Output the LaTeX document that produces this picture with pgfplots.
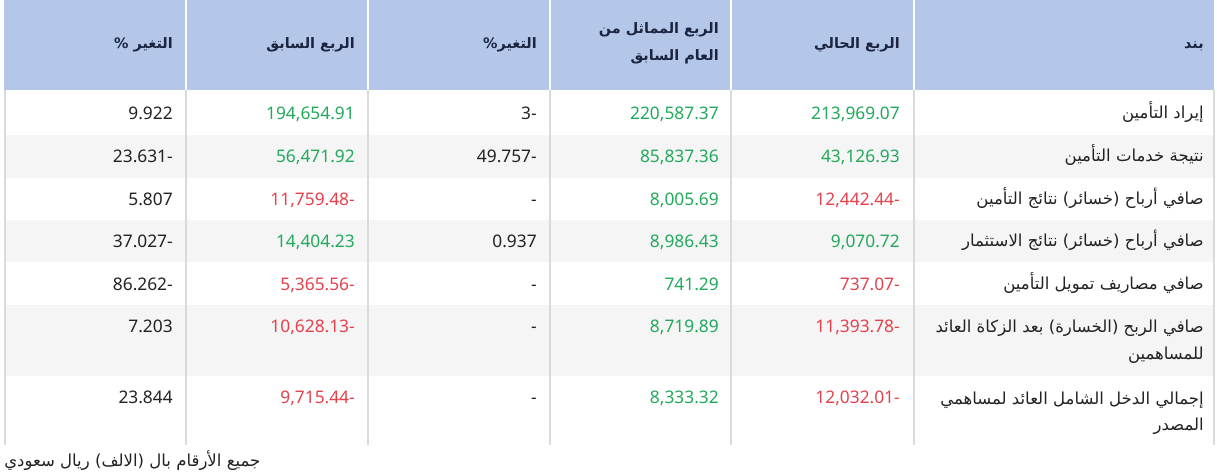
\documentclass[border=0pt]{standalone}
\usepackage{pgfplots}
\usepackage{pgfplotstable}
\pgfplotsset{compat=1.18}
\usepackage{fontspec}
\setmainfont{Noto Sans}
\newfontfamily\arabicfont[Script=Arabic]{DejaVu Sans}
\TeXXeTstate=1
\definecolor{hdr}{HTML}{B4C7E9}
\definecolor{hdrtxt}{HTML}{1B2440}
\definecolor{pos}{HTML}{22A95C}
\definecolor{neg}{HTML}{E5414C}
\definecolor{rowshade}{HTML}{F5F5F5}
\definecolor{gridc}{HTML}{DADADA}
\definecolor{txt}{HTML}{222222}
\newcommand\ar[1]{{\arabicfont\beginR #1\endR}}
\newcommand\arh[1]{{\arabicfont\bfseries\beginR #1\endR}}

% numbers: x = right edge of text (px), y = baseline (px from top)
\pgfplotstableread{
x y lab
173 119 9.922
537 119 3-
173 162 23.631-
537 162 49.757-
173 205 5.807
537 205 -
173 247 37.027-
537 247 0.937
173 290 86.262-
537 290 -
173 332 7.203
537 332 -
173 403 23.844
537 403 -
}\blacktab
\pgfplotstableread{
x y lab
355 119 194,654.91
719 119 220,587.37
900 119 213,969.07
355 162 56,471.92
719 162 85,837.36
900 162 43,126.93
719 205 8,005.69
355 247 14,404.23
719 247 8,986.43
900 247 9,070.72
719 290 741.29
719 332 8,719.89
719 403 8,333.32
}\greentab
\pgfplotstableread{
x y lab
355 205 11,759.48-
900 205 12,442.44-
355 290 5,365.56-
900 290 737.07-
355 332 10,628.13-
900 332 11,393.78-
355 403 9,715.44-
900 403 12,032.01-
}\redtab

\begin{document}
\begin{tikzpicture}
\begin{axis}[
  x=0.75pt, y=0.75pt,
  xmin=0, xmax=1217, ymin=0, ymax=472,
  y dir=reverse,
  hide axis, clip=false,
  point meta=explicit symbolic,
  nodes near coords,
  every node near coord/.append style={anchor=base east, inner sep=0pt, font=\fontsize{13}{15}\selectfont},
]
% header
\fill[hdr] (axis cs:4,0) rectangle (axis cs:1214,90);
\foreach \xx in {186,368,550,731,914}{
  \edef\tmp{\noexpand\draw[white, line width=1.6pt] (axis cs:\xx,0) -- (axis cs:\xx,90);}\tmp
}
% shaded rows
\fill[rowshade] (axis cs:5,135) rectangle (axis cs:1214,178);
\fill[rowshade] (axis cs:5,220) rectangle (axis cs:1214,262);
\fill[rowshade] (axis cs:5,305) rectangle (axis cs:1214,376);
% body vertical lines
\foreach \xx in {5,186,368,550,731,914,1214}{
  \edef\tmp{\noexpand\draw[gridc, line width=1.3pt] (axis cs:\xx,90) -- (axis cs:\xx,445);}\tmp
}
% header texts
\begin{scope}[every node/.style={anchor=base east, inner sep=0pt, text=hdrtxt, font=\fontsize{10.8}{21}\selectfont}]
\node at (axis cs:173,48) {\arh{التغير \%}};
\node at (axis cs:355,48) {\arh{الربع السابق}};
\node at (axis cs:537,48) {\arh{التغير\%}};
\node at (axis cs:719,33) {\arh{الربع المماثل من}};
\node at (axis cs:719,60) {\arh{العام السابق}};
\node at (axis cs:900,48) {\arh{الربع الحالي}};
\node at (axis cs:1204,48) {\arh{بند}};
\end{scope}
% row labels
\begin{scope}[every node/.style={anchor=base east, inner sep=0pt, text=txt, font=\fontsize{12.4}{21}\selectfont}]
\node at (axis cs:1204,118) {\ar{إيراد التأمين}};
\node at (axis cs:1204,161) {\ar{نتيجة خدمات التأمين}};
\node at (axis cs:1204,204) {\ar{صافي أرباح (خسائر) نتائج التأمين}};
\node at (axis cs:1204,246) {\ar{صافي أرباح (خسائر) نتائج الاستثمار}};
\node at (axis cs:1204,289) {\ar{صافي مصاريف تمويل التأمين}};
\node at (axis cs:1204,332) {\ar{صافي الربح (الخسارة) بعد الزكاة العائد}};
\node at (axis cs:1204,359) {\ar{للمساهمين}};
\node at (axis cs:1204,404) {\ar{إجمالي الدخل الشامل العائد لمساهمي}};
\node at (axis cs:1204,430) {\ar{المصدر}};
\node[anchor=base west] at (axis cs:4,466) {\ar{جميع الأرقام بال (الالف) ريال سعودي}};
\end{scope}
% numbers
\addplot[draw=none, nodes near coords style={text=txt}] table[x=x, y=y, meta=lab]{\blacktab};
\addplot[draw=none, nodes near coords style={text=pos}] table[x=x, y=y, meta=lab]{\greentab};
\addplot[draw=none, nodes near coords style={text=neg}] table[x=x, y=y, meta=lab]{\redtab};
\end{axis}
\pgfresetboundingbox
\useasboundingbox (0,0) rectangle (912.75pt,354pt);
\end{tikzpicture}
\end{document}
